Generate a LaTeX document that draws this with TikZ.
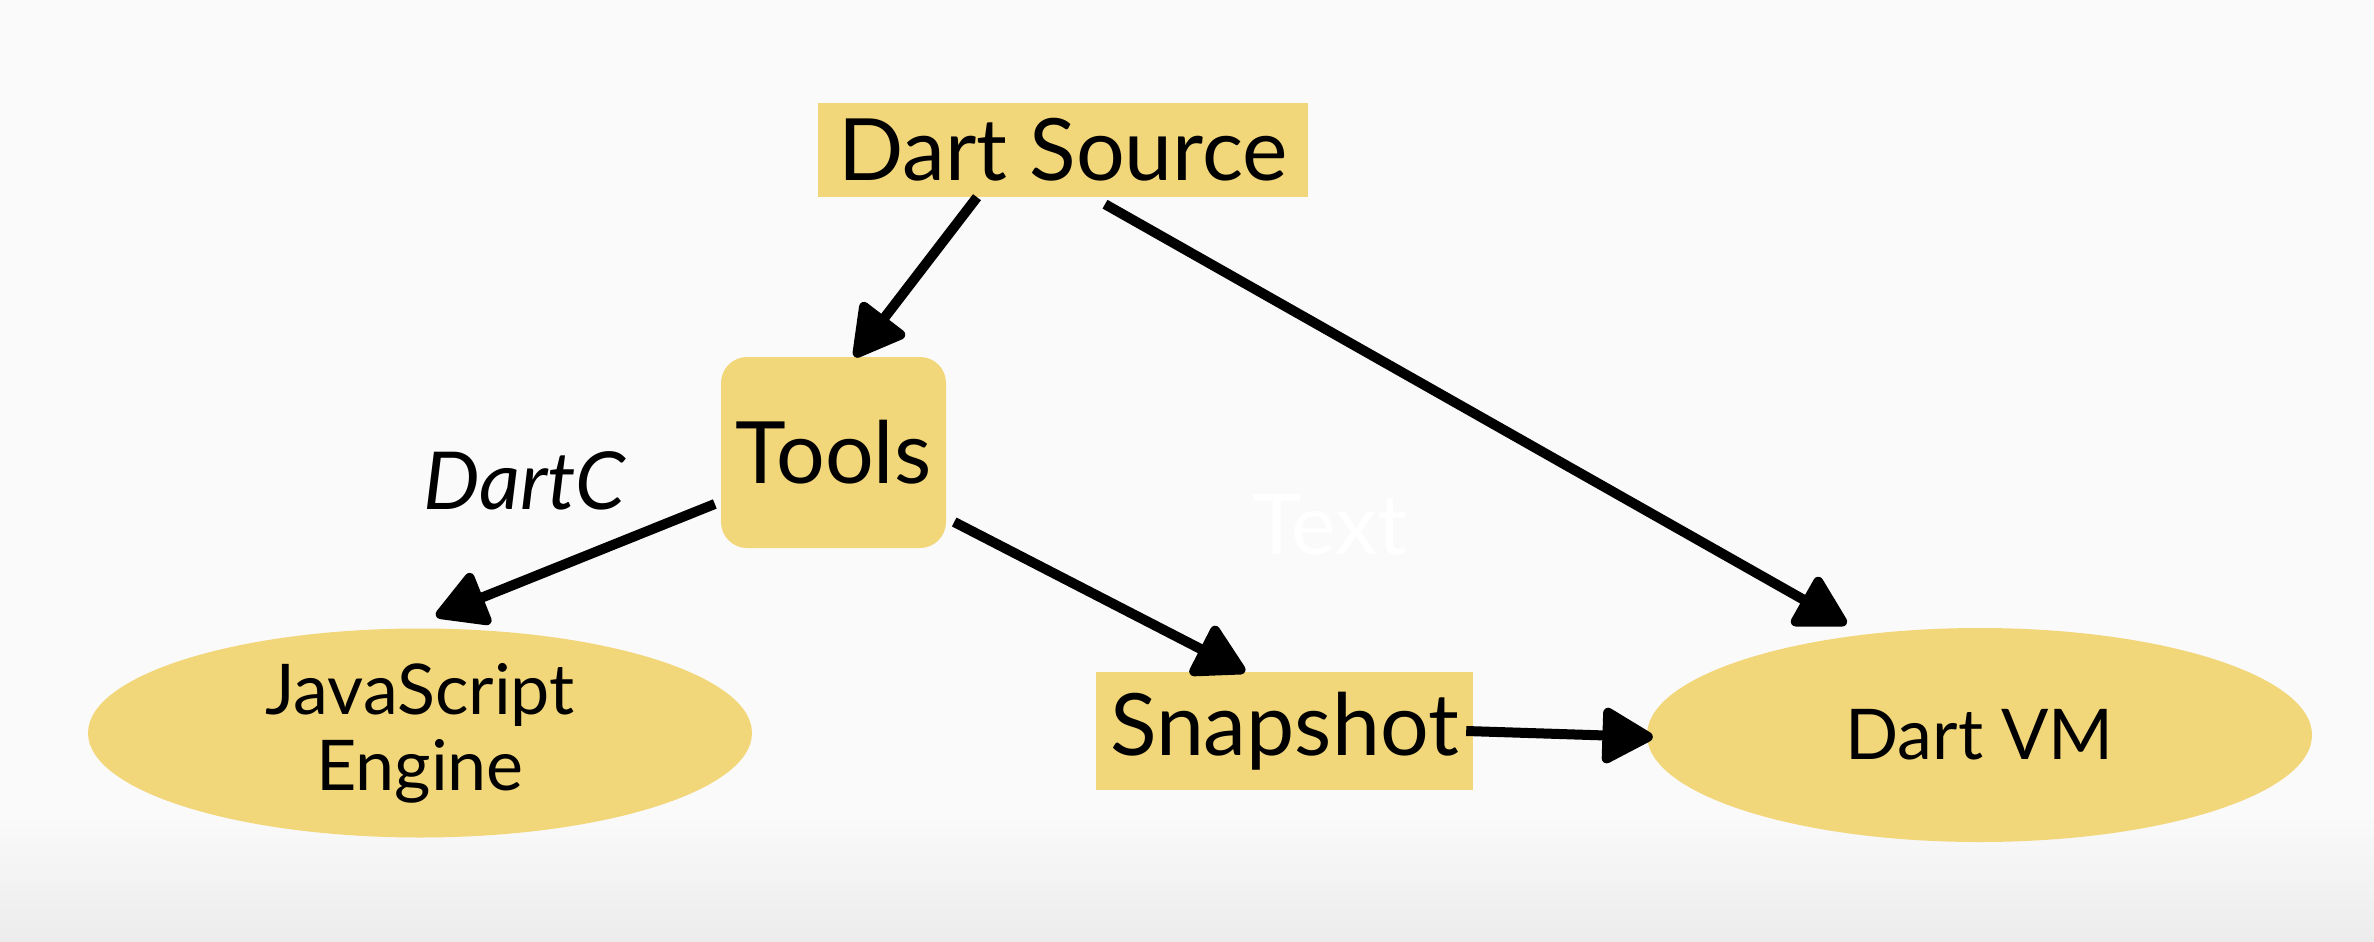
\documentclass[tikz,border=0pt]{standalone}
\usepackage{fontspec}
\setmainfont{Lato}
\usetikzlibrary{arrows.meta,shapes.geometric}
\definecolor{nodefill}{RGB}{242,214,122}
\tikzset{
  box/.style={fill=nodefill, inner sep=0pt, text=black},
  bigtext/.style={font=\fontsize{86}{92}\selectfont},
  smalltext/.style={font=\fontsize{70}{76}\selectfont, align=center},
  conn/.style={line width=10pt, draw=black, -{Triangle[length=56pt,width=60pt,round]}},
}
\begin{document}
\begin{tikzpicture}[x=1pt,y=-1pt]
\fill[gray!4] (0,0) rectangle (2374,942);
\begin{scope}[y=1pt]
\shade[top color=gray!4, bottom color=gray!15] (0,-815) rectangle (2374,-942);
\end{scope}
\useasboundingbox (0,0) rectangle (2374,942);
\node[text=white, font=\fontsize{84}{90}\selectfont] (wm) at (1330,525) {Text};
% nodes
\node[box, bigtext, rectangle, minimum width=490pt, minimum height=94pt] (src) at (1063,150) {Dart Source};
\node[box, bigtext, rectangle, rounded corners=26pt, minimum width=225pt, minimum height=191pt] (tools) at (833.5,452.5) {Tools};
\node[box, smalltext, ellipse, minimum width=664pt, minimum height=209pt] (js) at (420,733) {JavaScript\\Engine};
\node[box, bigtext, rectangle, minimum width=377pt, minimum height=118pt] (snap) at (1284.5,731) {Snapshot};
\node[box, smalltext, ellipse, minimum width=665pt, minimum height=214pt] (vm) at (1979.5,735) {Dart VM};
\node[font=\fontsize{80}{86}\selectfont\itshape] (dartc) at (524,481) {DartC};
% connectors
\draw[conn] ([xshift=-86pt]src.south) -- ([xshift=21pt]tools.north);
\draw[conn] ([xshift=42pt,yshift=-7pt]src.south) -- ([xshift=-133pt,yshift=111pt]vm.center);
\draw[conn] ([xshift=-6pt,yshift=-51.5pt]tools.west) -- ([xshift=16pt,yshift=117pt]js.center);
\draw[conn] ([xshift=8pt,yshift=-69.5pt]tools.east) -- ([xshift=-39.5pt]snap.north);
\draw[conn] ([xshift=-7pt]snap.east) -- ([xshift=6pt,yshift=-2pt]vm.west);
\end{tikzpicture}
\end{document}
